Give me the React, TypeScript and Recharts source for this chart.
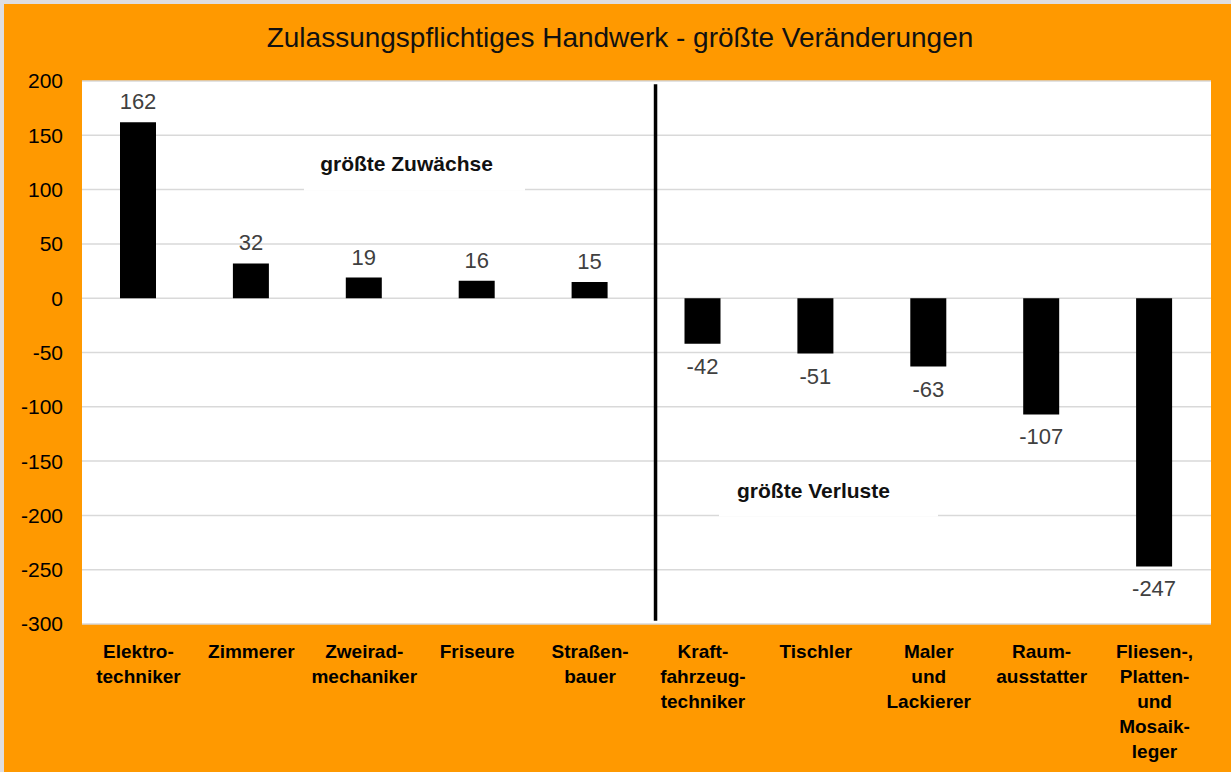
import React from 'react';
import {
  BarChart,
  Bar,
  XAxis,
  YAxis,
  CartesianGrid,
  ReferenceLine,
  ReferenceArea,
  LabelList,
  ScatterChart,
  Scatter,
} from 'recharts';

const FONT = '"Liberation Sans", Arial, sans-serif';

const categories = [
  'Elektro-\ntechniker',
  'Zimmerer',
  'Zweirad-\nmechaniker',
  'Friseure',
  'Straßen-\nbauer',
  'Kraft-\nfahrzeug-\ntechniker',
  'Tischler',
  'Maler\nund\nLackierer',
  'Raum-\nausstatter',
  'Fliesen-,\nPlatten-\nund\nMosaik-\nleger',
];
const changes = [162, 32, 19, 16, 15, -42, -51, -63, -107, -247];
const yTicks = [-300, -250, -200, -150, -100, -50, 0, 50, 100, 150, 200];
const title = 'Zulassungspflichtiges Handwerk - größte Veränderungen';
const gainLabel = 'größte Zuwächse';
const lossLabel = 'größte Verluste';

const data = categories.map((c, i) => ({ category: c, value: changes[i] }));

const CategoryTick = (props: any) => {
  const { x, y, payload } = props;
  const lines = String(payload.value).split('\n');
  return (
    <text x={x} y={y + 34} textAnchor="middle" fontFamily={FONT} fontSize={19} fontWeight="bold" fill="#000">
      {lines.map((l, i) => (
        <tspan key={i} x={x} dy={i === 0 ? 0 : 25}>
          {l}
        </tspan>
      ))}
    </text>
  );
};

const ValueLabel = (props: any) => {
  const vb = props.viewBox || {};
  const x = props.x ?? vb.x;
  const y = props.y ?? vb.y;
  const width = props.width ?? vb.width;
  const height = props.height ?? vb.height;
  const value = Number(props.value);
  const top = Math.min(y, y + height);
  const bottom = Math.max(y, y + height);
  const cx = x + width / 2;
  const ty = value >= 0 ? top - 13 : bottom + 30;
  return (
    <text x={cx} y={ty} textAnchor="middle" fontSize={22} fill="#404040" fontFamily={FONT}>
      {value}
    </text>
  );
};

const AreaLabel = (props: any) => {
  const { viewBox, text, shift } = props;
  if (!viewBox) return null;
  const cx = viewBox.x + viewBox.width / 2 + (shift || 0);
  const cy = viewBox.y + viewBox.height / 2;
  return (
    <text x={cx} y={cy + 7} textAnchor="middle" fontFamily={FONT} fontSize={21} fontWeight="bold" fill="#111">
      {text}
    </text>
  );
};

const MARGIN = { top: 81, right: 20, left: 0, bottom: 8 };

export default function App() {
  return (
    <div style={{ position: 'absolute', left: 0, top: 0, width: 1231, height: 772, background: '#dedee2', overflow: 'hidden' }}>
      <div style={{ position: 'absolute', left: 4, top: 4, width: 1227, height: 768, background: '#FF9900' }} />
      <div
        style={{
          position: 'absolute',
          left: 620,
          top: 24,
          transform: 'translateX(-50%)',
          whiteSpace: 'nowrap',
          fontFamily: FONT,
          fontSize: 28,
          lineHeight: '27px',
          color: '#111',
        }}
      >
        {title}
      </div>
      <div style={{ position: 'absolute', left: 0, top: 0 }}>
        <BarChart width={1231} height={772} data={data} margin={MARGIN}>
          <CartesianGrid vertical={false} stroke="#d9d9d9" strokeWidth={1.5} fill="#ffffff" fillOpacity={1} />
          <XAxis
            dataKey="category"
            axisLine={false}
            tickLine={false}
            tickSize={0}
            tickMargin={0}
            interval={0}
            height={140}
            tick={<CategoryTick />}
          />
          <YAxis
            domain={[-300, 200]}
            ticks={yTicks}
            interval={0}
            width={82}
            axisLine={false}
            tickLine={false}
            tickSize={0}
            tickMargin={19}
            tick={{ fontFamily: FONT, fontSize: 21, fill: '#000' }}
            allowDataOverflow
          />
          <Bar dataKey="value" fill="#000" barSize={36} isAnimationActive={false}>
            <LabelList dataKey="value" content={<ValueLabel />} />
          </Bar>
        </BarChart>
      </div>
      <div style={{ position: 'absolute', left: 0, top: 0, pointerEvents: 'none' }}>
        <ScatterChart width={1231} height={772} margin={{ top: 81, right: 20, left: 82, bottom: 148 }}>
          <XAxis type="number" dataKey="x" domain={[0, 10]} allowDataOverflow hide />
          <YAxis type="number" dataKey="y" domain={[-300, 200]} allowDataOverflow hide />
          <Scatter data={[]} isAnimationActive={false} />
          <ReferenceArea
            x1={1.966}
            x2={3.924}
            y1={99}
            y2={147.3}
            fill="#ffffff"
            fillOpacity={1}
            stroke="none"
            ifOverflow="visible"
            label={<AreaLabel text={gainLabel} shift={-8} />}
          />
          <ReferenceArea
            x1={5.642}
            x2={7.582}
            y1={-201}
            y2={-153.5}
            fill="#ffffff"
            fillOpacity={1}
            stroke="none"
            ifOverflow="visible"
            label={<AreaLabel text={lossLabel} shift={-15} />}
          />
          <ReferenceLine
            segment={[
              { x: 5.08, y: 197 },
              { x: 5.08, y: -297 },
            ]}
            stroke="#000"
            strokeWidth={3.5}
            ifOverflow="visible"
          />
        </ScatterChart>
      </div>
    </div>
  );
}
